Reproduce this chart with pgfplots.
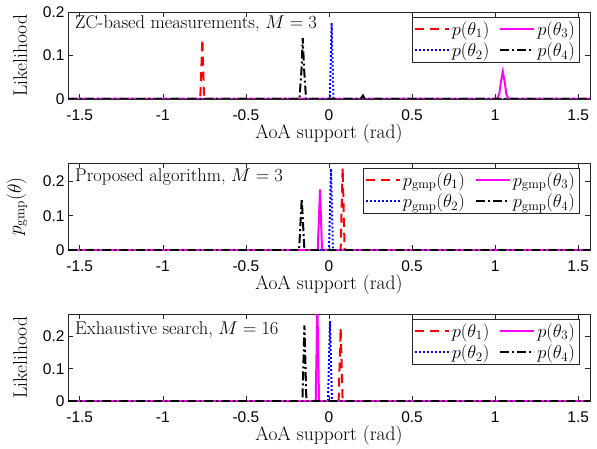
\documentclass[border=0pt]{standalone}
\usepackage{fix-cm}
\usepackage{fontspec}
\setsansfont{Liberation Sans}
\usepackage{pgfplots}
\pgfplotsset{compat=1.18}
\definecolor{cRed}{rgb}{1,0,0}
\definecolor{cBlue}{rgb}{0,0,1}
\definecolor{cMag}{rgb}{1,0,1}

\pgfplotsset{
  panel/.style={
    scale only axis, width=522pt, height=87pt, anchor=south west,
    xmin=-1.5708, xmax=1.5708, ymin=0,
    xtick={-1.5,-1,-0.5,0,0.5,1,1.5},
    xticklabels={-1.5,-1,-0.5,0,0.5,1,1.5},
    ytick={0,0.1,0.2}, yticklabels={0,0.1,0.2},
    tick align=inside, major tick length=5pt,
    tick label style={font=\sffamily\fontsize{15.5}{18}\selectfont},
    label style={font=\fontsize{19.5}{22}\selectfont},
    xticklabel shift=7pt, xlabel shift=-3pt, ylabel shift=9pt,
    xlabel={AoA support (rad)},
    axis line style={draw=black!85, line width=0.6pt},
    every tick/.style={black!85, line width=0.6pt},
    legend columns=2, transpose legend,
    legend style={at={(rel axis cs:1,1)}, anchor=north east,
      xshift=-11pt, yshift=-5pt, font=\fontsize{18.5}{22}\selectfont,
      draw=black!85, fill=white, inner sep=2pt, row sep=2pt,
      /tikz/every even column/.append style={column sep=8pt}},
    legend image code/.code={\draw[##1] (0pt,0pt) -- (34pt,0pt);},
  },
  s1/.style={color=cRed, line width=2pt, dash pattern=on 9pt off 6pt},
  s2/.style={color=cBlue, line width=2pt, dash pattern=on 1.8pt off 2.2pt},
  s3/.style={color=cMag, line width=2pt, solid},
  s4/.style={color=black, line width=2pt, dash pattern=on 9pt off 3pt on 2pt off 3pt},
}
\newcommand{\tag}[2]{\node[anchor=north west, inner sep=0pt, font=\fontsize{18.5}{22}\selectfont]
  at (rel axis cs:0,1) [xshift=7pt, yshift=#1] {#2};}

\begin{document}
\begin{tikzpicture}
% ZC-based measurements
\begin{axis}[panel, at={(68pt,-99pt)}, ymax=0.2, ylabel={Likelihood}]
\addplot[s1] coordinates {(-1.5708,0) (-0.775,0) (-0.762,0.138) (-0.752,0) (1.5708,0)};
\addplot[s2] coordinates {(-1.5708,0) (0.005,0) (0.016,0.175) (0.027,0) (1.5708,0)};
\addplot[s3] coordinates {(-1.5708,0) (1.01,0) (1.025,0.012) (1.035,0.04) (1.046,0.063) (1.057,0.04) (1.067,0.012) (1.08,0) (1.5708,0)};
\addplot[s4] coordinates {(-1.5708,0) (-0.178,0) (-0.165,0.07) (-0.158,0.14) (-0.15,0.07) (-0.138,0) (0.19,0) (0.204,0.008) (0.215,0) (1.5708,0)};
\legend{$p(\theta_1)$, $p(\theta_2)$, $p(\theta_3)$, $p(\theta_4)$}
\tag{-3pt}{ZC-based measurements, $M=3$}
\end{axis}
% Proposed algorithm
\begin{axis}[panel, at={(68pt,-250pt)}, ymax=0.254, ylabel={$p_{\mathrm{gmp}}(\theta)$}]
\addplot[s1] coordinates {(-1.5708,0) (0.07,0) (0.082,0.24) (0.094,0) (1.5708,0)};
\addplot[s2] coordinates {(-1.5708,0) (0.0,0) (0.012,0.237) (0.024,0) (1.5708,0)};
\addplot[s3] coordinates {(-1.5708,0) (-0.068,0) (-0.054,0.177) (-0.042,0) (1.5708,0)};
\addplot[s4] coordinates {(-1.5708,0) (-0.18,0) (-0.164,0.15) (-0.148,0) (1.5708,0)};
\legend{$p_{\mathrm{gmp}}(\theta_1)$, $p_{\mathrm{gmp}}(\theta_2)$, $p_{\mathrm{gmp}}(\theta_3)$, $p_{\mathrm{gmp}}(\theta_4)$}
\tag{-5pt}{Proposed algorithm, $M=3$}
\end{axis}
% Exhaustive search
\begin{axis}[panel, at={(68pt,-401pt)}, ymax=0.27, ylabel={Likelihood}]
\addplot[s1] coordinates {(-1.5708,0) (0.058,0) (0.07,0.227) (0.082,0) (1.5708,0)};
\addplot[s2] coordinates {(-1.5708,0) (-0.006,0) (0.006,0.248) (0.018,0) (1.5708,0)};
\addplot[s3] coordinates {(-1.5708,0) (-0.08,0) (-0.07,0.30) (-0.06,0) (1.5708,0)};
\addplot[s4] coordinates {(-1.5708,0) (-0.16,0) (-0.148,0.235) (-0.136,0) (1.5708,0)};
\legend{$p(\theta_1)$, $p(\theta_2)$, $p(\theta_3)$, $p(\theta_4)$}
\tag{-7.5pt}{Exhaustive search, $M=16$}
\end{axis}
\pgfresetboundingbox
\useasboundingbox (0pt,0pt) rectangle (597pt,-449pt);
\end{tikzpicture}
\end{document}
